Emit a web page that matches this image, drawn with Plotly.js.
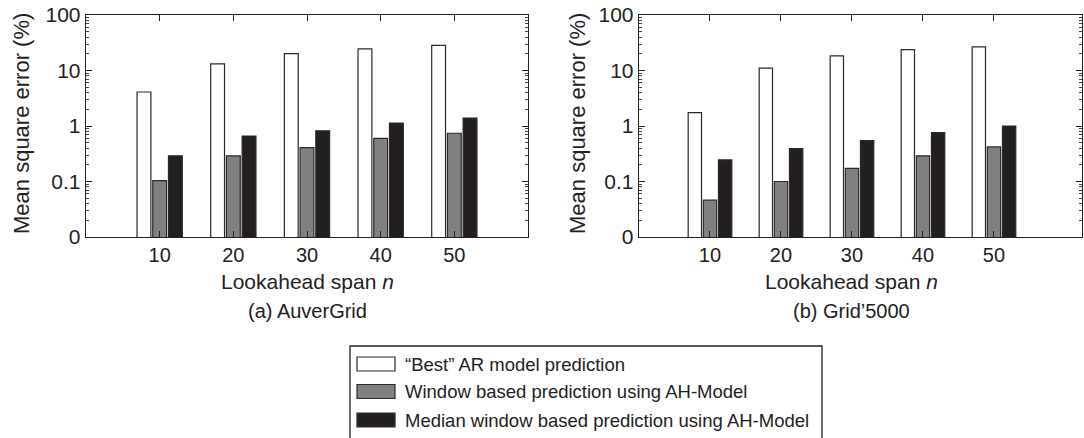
<!DOCTYPE html>
<html><head><meta charset="utf-8">
<script src="https://cdn.plot.ly/plotly-3.0.1.min.js"></script>
<style>body{margin:0;background:#fff}#chart{width:1084px;height:438px}</style>
</head><body><div id="chart"></div>
<script>
// ---- data ----
const lookahead = [10, 20, 30, 40, 50];
const xTickLabels = ['10', '20', '30', '40', '50'];
const seriesNames = ['\u201cBest\u201d AR model prediction', 'Window based prediction using AH-Model', 'Median window based prediction using AH-Model'];
const auverBest   = [4.1, 13.2, 20.2, 24.5, 28.4];
const auverWindow = [0.104, 0.289, 0.408, 0.60, 0.74];
const auverMedian = [0.29, 0.66, 0.82, 1.13, 1.39];
const gridBest    = [1.74, 11.0, 18.3, 23.8, 26.6];
const gridWindow  = [0.046, 0.10, 0.173, 0.29, 0.42];
const gridMedian  = [0.245, 0.39, 0.545, 0.76, 1.0];
const yTickVals = [0.01, 0.1, 1, 10, 100];
const yTickText = ['0', '0.1', '1', '10', '100'];
const panelTitles = ['(a) AuverGrid', '(b) Grid\u20195000'];
const xTitle = 'Lookahead span <i>n</i>';
const yTitle = 'Mean square error (%)';

// ---- styling ----
const W = 1084, H = 438;
const FONT = 'Liberation Sans, Arial, sans-serif';
const fills = ['#ffffff', '#808083', '#231f20'];
const edge = '#2a2a2a';
const px = v => v / W, py = v => 1 - v / H;

const minorVals = [];
for (let k = -2; k < 2; k++) for (let m = 2; m < 10; m++) minorVals.push(m * Math.pow(10, k));

function bar(y, i, xa, ya) {
  return {type: 'bar', x: lookahead, y: y, name: seriesNames[i], xaxis: xa, yaxis: ya,
    marker: {color: fills[i], line: {color: edge, width: 1.2}}, showlegend: false, hoverinfo: 'skip'};
}
const traces = [
  bar(auverBest, 0, 'x', 'y'), bar(auverWindow, 1, 'x', 'y'), bar(auverMedian, 2, 'x', 'y'),
  bar(gridBest, 0, 'x2', 'y2'), bar(gridWindow, 1, 'x2', 'y2'), bar(gridMedian, 2, 'x2', 'y2')
];

function xAxis(dom, rng, anchor) {
  return {domain: dom, range: rng, anchor: anchor, tickmode: 'array', tickvals: lookahead, ticktext: xTickLabels,
    ticks: 'inside', ticklen: 6, tickcolor: '#222', mirror: 'ticks', showline: true, linecolor: '#222', linewidth: 1.3,
    showgrid: false, zeroline: false, tickfont: {family: FONT, size: 20, color: '#222'}, fixedrange: true};
}
function yAxis(anchor) {
  return {type: 'log', domain: [py(237), py(15)], range: [-2, 2], anchor: anchor,
    tickmode: 'array', tickvals: yTickVals, ticktext: yTickText,
    ticks: 'inside', ticklen: 6, tickcolor: '#222', mirror: 'ticks', showline: true, linecolor: '#222', linewidth: 1.3,
    minor: {tickmode: 'array', tickvals: minorVals, ticks: 'inside', ticklen: 3, tickcolor: '#444', showgrid: false},
    showgrid: false, zeroline: false, tickfont: {family: FONT, size: 21, color: '#222'}, fixedrange: true};
}

const annotations = [];
const shapes = [];
[[307, 21], [851, 577]].forEach((p, i) => {
  annotations.push({xref: 'paper', yref: 'paper', x: px(p[0]), y: py(281), text: xTitle, showarrow: false,
    xanchor: 'center', yanchor: 'middle', font: {family: FONT, size: 21, color: '#222'}});
  annotations.push({xref: 'paper', yref: 'paper', x: px(p[0]), y: py(311), text: panelTitles[i], showarrow: false,
    xanchor: 'center', yanchor: 'middle', font: {family: FONT, size: 20, color: '#222'}});
  annotations.push({xref: 'paper', yref: 'paper', x: px(p[1]), y: py(124), text: yTitle, showarrow: false, textangle: -90,
    xanchor: 'center', yanchor: 'middle', font: {family: FONT, size: 22, color: '#222'}});
});
shapes.push({type: 'rect', xref: 'paper', yref: 'paper', x0: px(350), x1: px(822), y0: py(446), y1: py(346),
  line: {color: '#222', width: 1.3}, fillcolor: 'rgba(0,0,0,0)'});
[364, 391.5, 420].forEach((cy, i) => {
  shapes.push({type: 'rect', xref: 'paper', yref: 'paper', x0: px(357), x1: px(395), y0: py(cy + 7), y1: py(cy - 7),
    line: {color: edge, width: 1.2}, fillcolor: fills[i]});
  annotations.push({xref: 'paper', yref: 'paper', x: px(403), y: py(cy), text: seriesNames[i], showarrow: false,
    xanchor: 'left', yanchor: 'middle', font: {family: FONT, size: 18.5, color: '#222'}});
});

const layout = {
  width: W, height: H, margin: {l: 0, r: 0, t: 0, b: 0},
  paper_bgcolor: '#fff', plot_bgcolor: '#fff',
  barmode: 'group', bargap: 0.36, bargroupgap: 0.12, showlegend: false,
  xaxis: xAxis([px(86), px(528)], [0, 60], 'y'),
  yaxis: yAxis('x'),
  xaxis2: xAxis([px(639), px(1082)], [0, 62.4], 'y2'),
  yaxis2: yAxis('x2'),
  annotations: annotations, shapes: shapes
};
Plotly.newPlot('chart', traces, layout, {staticPlot: true});
</script></body></html>
